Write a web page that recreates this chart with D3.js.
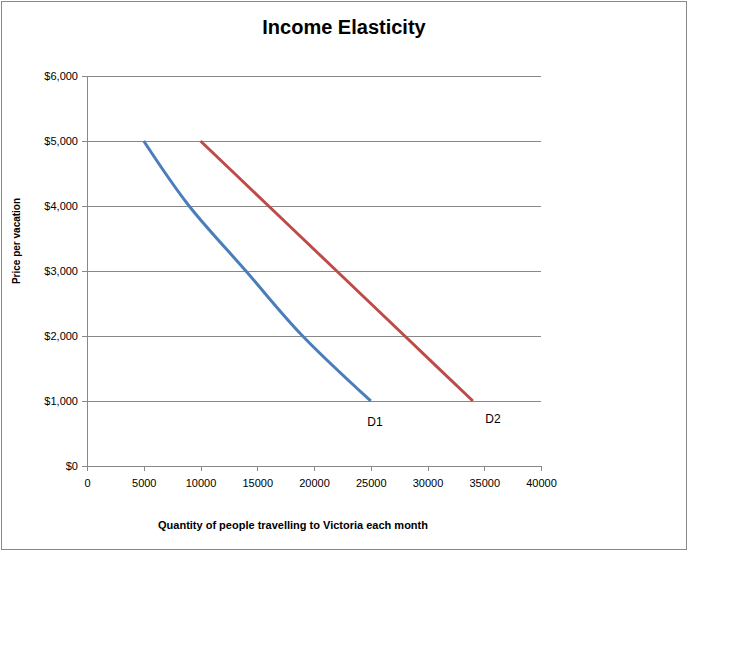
<!DOCTYPE html>
<html><head><meta charset="utf-8">
<script src="https://cdn.jsdelivr.net/npm/d3@7"></script>
<style>body{margin:0;background:#fff}text{font-family:"Liberation Sans",Arial,sans-serif}</style>
</head><body>
<script>
// data
const prices = [5000, 4000, 3000, 2000, 1000]
const qtyD1 = [5000, 9000, 14000, 19000, 25000]
const qtyD2 = [10000, 16000, 22000, 28000, 34000]
const xTicks = [0, 5000, 10000, 15000, 20000, 25000, 30000, 35000, 40000]
const yTicks = [0, 1000, 2000, 3000, 4000, 5000, 6000]

const svg = d3.select('body').append('svg').attr('width', 754).attr('height', 670)
svg.append('rect').attr('x', 1.5).attr('y', 1.5).attr('width', 685).attr('height', 548)
  .attr('fill', '#fff').attr('stroke', '#888')

const x = d3.scaleLinear().domain([0, 40000]).range([87, 541])
const y = d3.scaleLinear().domain([0, 6000]).range([466, 76])

// gridlines
svg.append('g').selectAll('line').data(yTicks.slice(1)).enter().append('line')
  .attr('x1', 87).attr('x2', 541).attr('y1', d => y(d)).attr('y2', d => y(d))
  .attr('stroke', '#888').attr('stroke-width', 1).attr('shape-rendering', 'crispEdges')

const yAxis = svg.append('g').attr('transform', 'translate(87,0)')
  .call(d3.axisLeft(y).tickValues(yTicks).tickSize(5).tickFormat(d => '$' + d3.format(',')(d)))
const xAxis = svg.append('g').attr('transform', 'translate(0,466)')
  .call(d3.axisBottom(x).tickValues(xTicks).tickSize(5).tickFormat(d3.format('d')))
;[xAxis, yAxis].forEach(a => {
  a.selectAll('path,line').attr('stroke', '#888').attr('shape-rendering', 'crispEdges')
  a.selectAll('text').attr('font-size', 11).attr('fill', '#000')
})
yAxis.selectAll('text').attr('x', -9)
xAxis.selectAll('text').attr('y', 13)

const line = d3.line().x(d => x(d[0])).y(d => y(d[1])).curve(d3.curveMonotoneY)
svg.append('path').datum(d3.zip(qtyD1, prices)).attr('d', line)
  .attr('fill', 'none').attr('stroke', '#4a7ebb').attr('stroke-width', 3)
svg.append('path').datum(d3.zip(qtyD2, prices)).attr('d', line)
  .attr('fill', 'none').attr('stroke', '#be4b48').attr('stroke-width', 3)

svg.append('text').attr('x', 375).attr('y', 426).attr('text-anchor', 'middle').attr('font-size', 12).text('D1')
svg.append('text').attr('x', 493).attr('y', 423).attr('text-anchor', 'middle').attr('font-size', 12).text('D2')

svg.append('text').attr('x', 344).attr('y', 34).attr('text-anchor', 'middle')
  .attr('font-size', 20).attr('font-weight', 'bold').text('Income Elasticity')
svg.append('text').attr('x', 293).attr('y', 529).attr('text-anchor', 'middle')
  .attr('font-size', 11).attr('font-weight', 'bold').text('Quantity of people travelling to Victoria each month')
svg.append('text').attr('transform', 'translate(20,241) rotate(-90)').attr('text-anchor', 'middle')
  .attr('font-size', 10).attr('font-weight', 'bold').text('Price per vacation')
</script>
</body></html>
